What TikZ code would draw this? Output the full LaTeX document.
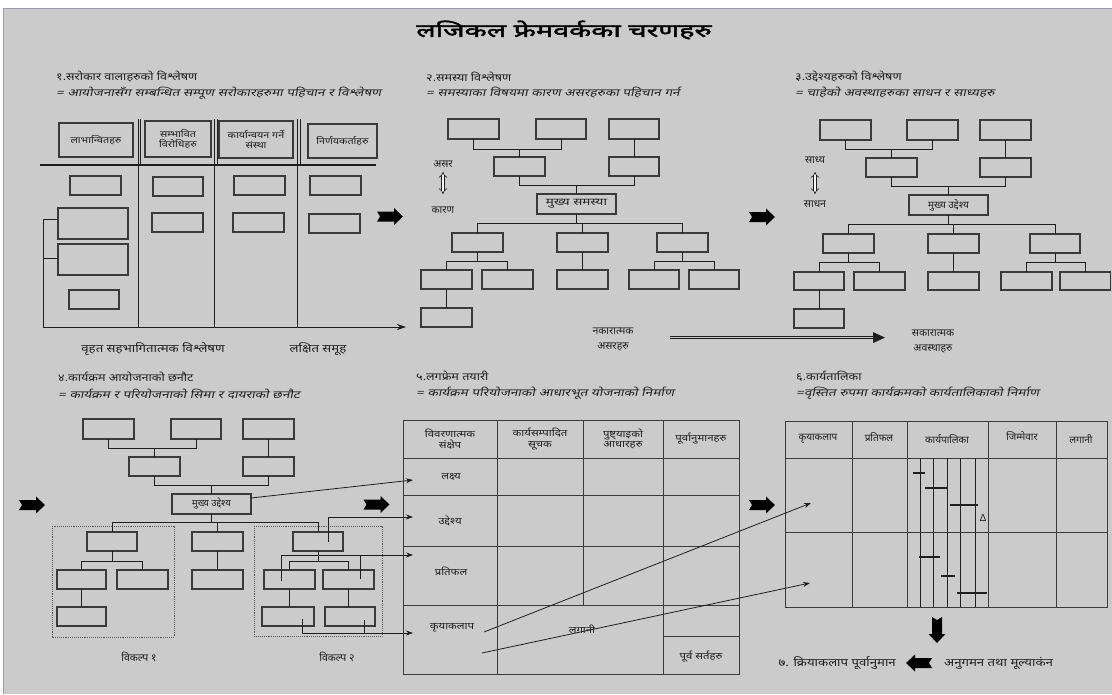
\documentclass[tikz,border=0pt]{standalone}
\usepackage{fontspec}
\newfontfamily\dv{Noto Sans}[Script=Devanagari]
\newfontfamily\dvw{Noto Sans}[Script=Devanagari,FakeStretch=1.2]
\newfontfamily\dvx{Noto Sans}[Script=Devanagari,FakeStretch=1.35]
\newfontfamily\dvi{Noto Sans}[Script=Devanagari,FakeSlant=0.22,FakeStretch=1.3]
\newfontfamily\dvt{Noto Sans}[Script=Devanagari,FakeStretch=1.6,FakeBold=2.5]
\usetikzlibrary{arrows.meta,calc}
\definecolor{bg}{HTML}{CBCBCB}
\definecolor{ink}{HTML}{1E1E1E}
\definecolor{boxc}{HTML}{3A3A3A}
\definecolor{frm}{HTML}{9A9CAC}
\newcommand\mkbox[6]{%
  \pgfmathsetmacro\mbw{#4-#2}%
  \pgfmathsetmacro\mbh{#5-#3}%
  \pgfmathsetmacro\mbx{(#2+#4)/2}%
  \pgfmathsetmacro\mby{(#3+#5)/2}%
  \node[bx, minimum width=\mbw pt, minimum height=\mbh pt] (#1) at (\mbx,\mby) {#6};}
\newcommand\downfork[4]{%
  \coordinate (fk) at (0,#2);
  \draw[cn] (#1.south) -- (#1.south|-fk);
  \draw[cn] (#3.north) -- (#3.north|-fk) -- (#4.north|-fk) -- (#4.north);}
\newcommand\upfork[4]{%
  \coordinate (fk) at (0,#2);
  \draw[cn] (#1.north) -- (#1.north|-fk);
  \draw[cn] (#3.south) -- (#3.south|-fk) -- (#4.south|-fk) -- (#4.south);}
\begin{document}
\begin{tikzpicture}[x=1pt,y=-1pt,
  bx/.style={draw=boxc, line width=1.1pt, inner sep=0pt, outer sep=0pt, align=center, text=ink, font=\dvw\fontsize{9}{10.5}\selectfont},
  cn/.style={draw=ink, line width=0.8pt},
  tbl/.style={draw=boxc, line width=0.9pt},
  tx/.style={inner sep=0pt, text=ink, font=\dvw\fontsize{11}{13}\selectfont, align=center},
  sm/.style={inner sep=0pt, text=ink, font=\dv\fontsize{10.5}{15}\selectfont, align=center},
  hd/.style={inner sep=0pt, text=ink, anchor=west, font=\dvw\fontsize{10.5}{12}\selectfont},
  it/.style={inner sep=0pt, text=ink, anchor=west, font=\dvi\fontsize{10.5}{12}\selectfont},
  th/.style={inner sep=0pt, text=ink, align=center, font=\dvw\fontsize{9.5}{10.5}\selectfont},
  sh/.style={inner sep=0pt, text=ink, align=center, font=\dv\fontsize{10}{11}\selectfont},
  bar/.style={draw=ink, line width=2pt},
  tip/.style={-{Stealth[length=7pt,width=5pt]}},
  barrow/.pic={\fill[black] (-13,-5) -- (4,-5) -- (4,-8.5) -- (13,0) -- (4,8.5) -- (4,5) -- (-13,5) -- (-10,0) -- cycle;}
]
\useasboundingbox (0,0) rectangle (1112,694);
\fill[white] (0,0) rectangle (1112,694);
\fill[bg] (3,8) rectangle (1112,694);
\draw[frm, line width=0.8pt] (1112,8.4) -- (3.4,8.4) -- (3.4,694);

% title
\node[inner sep=0pt, text=black, font=\dvt\fontsize{18}{20}\selectfont] (title) at (564,30) {लजिकल फ्रेमवर्कका चरणहरु};

% ---------- section 1 ----------
\node[hd] (h1) at (56,77) {१.सरोकार वालाहरुको  विश्लेषण};
\node[it] (i1) at (56,93) {= आयोजनासँग सम्बन्धित सम्पूण सरोकारहरुमा पहिचान र  विश्लेषण};
\mkbox{sa}{59}{123}{133}{157}{लाभान्वितहरु}
\mkbox{sb}{145}{121}{211}{157}{सम्भावित\\विरोधिहरु}
\mkbox{sc}{219}{121}{293}{158}{कार्यान्वयन गर्ने\\संस्था}
\mkbox{sd}{308}{124}{377}{158}{निर्णयकर्ताहरु}
\mkbox{p1}{70}{176}{121}{195}{}
\mkbox{p2}{58}{208}{128}{239}{}
\mkbox{p3}{58}{244}{128}{275}{}
\mkbox{p4}{69}{290}{119}{309}{}
\mkbox{q1}{153}{177}{203}{196}{}
\mkbox{q2}{152}{213}{203}{232}{}
\mkbox{k1}{234}{176}{285}{195}{}
\mkbox{k2}{233}{213}{284}{232}{}
\mkbox{w1}{310}{176}{361}{195}{}
\mkbox{w2}{309}{214}{360}{233}{}
\draw[draw=ink, line width=1.5pt] (40,165) -- (376,165);
\foreach \cx in {138,214.5,297.5}{
  \draw[draw=ink, line width=1pt] (\cx,119) -- (\cx,327);
  \draw[draw=ink, line width=0.9pt] (\cx+2.6,119) -- (\cx+2.6,165);
}
\coordinate (ax0) at (43,219);
\coordinate (ax1) at (43,327);
\coordinate (ax2) at (406,327);
\coordinate (ax3) at (43,258);
\draw[cn, line width=1pt, -{Stealth[length=9pt,width=6pt]}] (ax0) -- (ax1) -- (ax2);
\draw[cn] (ax0) -- (p2.west|-ax0);
\draw[cn] (ax3) -- (p3.west|-ax3);
\node[tx] (l1a) at (153,349) {वृहत सहभागितात्मक विश्लेषण};
\node[tx] (l1b) at (318,349) {लक्षित समूह};
\pic at (390,216.5) {barrow};

% ---------- section 2 ----------
\node[hd] (h2) at (426,77) {२.समस्या विश्लेषण};
\node[it] (i2) at (426,93) {= समस्याका विषयमा कारण असरहरुका पहिचान  गर्न};
\mkbox{at1}{448}{119}{499}{139}{}
\mkbox{at2}{536}{119}{586}{139}{}
\mkbox{at3}{609}{119}{659}{139}{}
\mkbox{am1}{494}{157}{545}{176}{}
\mkbox{am2}{609}{157}{659}{176}{}
\mkbox{amain}{537}{194}{616}{214}{\dvx\fontsize{10}{11}\selectfont मुख्य समस्या}
\mkbox{ar1}{452}{233}{503}{252}{}
\mkbox{ar2}{557}{233}{608}{252}{}
\mkbox{ar3}{657}{233}{708}{252}{}
\mkbox{as1}{421}{270}{472}{289}{}
\mkbox{as2}{482}{270}{533}{289}{}
\mkbox{as3}{557}{270}{608}{289}{}
\mkbox{as4}{629}{270}{679}{289}{}
\mkbox{as5}{689}{270}{739}{289}{}
\mkbox{au1}{421}{308}{472}{327}{}
\upfork{am1}{149}{at1}{at2}
\draw[cn] (at3.south) -- (at3.south|-am2.north);
\upfork{amain}{185}{am1}{am2}
\downfork{amain}{223}{ar1}{ar3}
\draw[cn] (ar2.north|-fk) -- (ar2.north);
\downfork{ar1}{261}{as1}{as2}
\draw[cn] (ar2.south) -- (as3.north);
\downfork{ar3}{261}{as4}{as5}
\draw[cn] (as1.south) -- (au1.north);
\node[sm] (asar) at (443,164) {असर};
\node[sm] (karan) at (443,210) {कारण};
\coordinate (ua1) at (443,172);
\coordinate (ua2) at (443,194);
\draw[draw=ink, line width=0.6pt, double, double distance=2.4pt, {Implies}-{Implies}] (ua1) -- (ua2);
\node[sm] (neg) at (613,339) {नकारात्मक\\असरहरु};
\coordinate (na) at (670,337.6);
\coordinate (sa2) at (885,337.6);
\draw[draw=ink, line width=1pt] ([yshift=1.3pt]na) -- ([yshift=1.3pt,xshift=-10pt]sa2);
\draw[draw=ink, line width=1pt] ([yshift=-1.3pt]na) -- ([yshift=-1.3pt,xshift=-10pt]sa2);
\fill[ink] (sa2) -- ++(-12,-5.5) -- ++(0,11) -- cycle;
\node[sm] (pos) at (933,341) {सकारात्मक\\अवस्थाहरु};
\pic at (762,217) {barrow};

% ---------- section 3 ----------
\node[hd] (h3) at (795,77) {३.उद्देश्यहरुको विश्लेषण};
\node[it] (i3) at (795,93) {= चाहेको अवस्थाहरुका साधन र साध्यहरु};
\mkbox{bt1}{820}{120}{871}{140}{}
\mkbox{bt2}{907}{120}{958}{140}{}
\mkbox{bt3}{980}{120}{1031}{140}{}
\mkbox{bm1}{866}{158}{917}{177}{}
\mkbox{bm2}{980}{158}{1031}{177}{}
\mkbox{bmain}{909}{195}{988}{215}{\dv\fontsize{10}{11}\selectfont मुख्य उद्देश्य}
\mkbox{br1}{823}{234}{874}{253}{}
\mkbox{br2}{928}{234}{979}{253}{}
\mkbox{br3}{1030}{234}{1080}{253}{}
\mkbox{bs1}{794}{272}{844}{290}{}
\mkbox{bs2}{854}{272}{905}{290}{}
\mkbox{bs3}{928}{272}{979}{290}{}
\mkbox{bs4}{1001}{272}{1052}{290}{}
\mkbox{bs5}{1060}{272}{1110.5}{290}{}
\mkbox{bu1}{794}{309}{844}{328}{}
\upfork{bm1}{149}{bt1}{bt2}
\draw[cn] (bt3.south) -- (bt3.south|-bm2.north);
\upfork{bmain}{186}{bm1}{bm2}
\downfork{bmain}{224}{br1}{br3}
\draw[cn] (br2.north|-fk) -- (br2.north);
\downfork{br1}{262}{bs1}{bs2}
\draw[cn] (br2.south) -- (bs3.north);
\downfork{br3}{262}{bs4}{bs5}
\draw[cn] (bs1.south) -- (bu1.north);
\node[sm] (sadhya) at (815,160) {साध्य};
\node[sm] (sadhan) at (815,204) {साधन};
\coordinate (ub1) at (815,172);
\coordinate (ub2) at (815,194);
\draw[draw=ink, line width=0.6pt, double, double distance=2.4pt, {Implies}-{Implies}] (ub1) -- (ub2);

% ---------- section 4 ----------
\node[hd] (h4) at (58,377) {४.कार्यक्रम आयोजनाको छनौट};
\node[it] (i4) at (58,394) {= कार्यक्रम र परियोजनाको सिमा र दायराको छनौट};
\mkbox{ct1}{83}{419}{134}{439}{}
\mkbox{ct2}{171}{419}{221}{439}{}
\mkbox{ct3}{243}{419}{294}{439}{}
\mkbox{cm1}{129}{457}{180}{476}{}
\mkbox{cm2}{243}{457}{294}{476}{}
\mkbox{cmain}{172}{494}{251}{514}{\dv\fontsize{9.5}{10}\selectfont मुख्य उद्देश्य}
\draw[densely dotted, draw=black!65, line width=0.9pt] (52,526) rectangle (174,637);
\draw[densely dotted, draw=black!65, line width=0.9pt] (254,526) rectangle (382,636);
\mkbox{cr1}{87}{532}{137}{551}{}
\mkbox{cr2}{192}{532}{243}{551}{}
\mkbox{cr3}{293}{532}{343}{551}{}
\mkbox{cs1}{57}{570}{106}{589}{}
\mkbox{cs2}{117}{570}{168}{589}{}
\mkbox{cs3}{192}{570}{243}{589}{}
\mkbox{cs4}{264}{570}{315}{589}{}
\mkbox{cs5}{323}{570}{374}{589}{}
\mkbox{cu1}{57}{607}{106}{626}{}
\mkbox{cu2}{262}{607}{314}{626}{}
\mkbox{cu3}{325}{607}{375}{626}{}
\upfork{cm1}{448}{ct1}{ct2}
\draw[cn] (ct3.south) -- (ct3.south|-cm2.north);
\upfork{cmain}{485}{cm1}{cm2}
\downfork{cmain}{522}{cr1}{cr3}
\draw[cn] (cr2.north|-fk) -- (cr2.north);
\downfork{cr1}{561}{cs1}{cs2}
\draw[cn] (cr2.south) -- (cs3.north);
\downfork{cr3}{561}{cs4}{cs5}
\draw[cn] (cs1.south) -- (cu1.north);
\draw[cn] (cs4.south) -- (cs4.south|-cu2.north);
\draw[cn] (cs5.south) -- (cs5.south|-cu3.north);
\node[sm] (v1) at (139,657) {विकल्प १};
\node[sm] (v2) at (337,657) {विकल्प २};
\pic at (32,505) {barrow};
\pic at (376.5,504.5) {barrow};

% ---------- section 5 : logframe ----------
\node[hd] (h5) at (416,376) {५.लगफ्रेम तयारी};
\node[it] (i5) at (416,393) {= कार्यक्रम परियोजनाको आधारभूत योजनाको निर्माण};
\draw[tbl] (403,420) rectangle (739,674);
\draw[tbl] (497,420) -- (497,674);
\draw[tbl] (583,420) -- (583,605);
\draw[tbl] (663,420) -- (663,674);
\draw[tbl] (403,458) -- (739,458);
\draw[tbl] (403,495) -- (739,495);
\draw[tbl] (403,546) -- (739,546);
\draw[tbl] (403,605) -- (739,605);
\draw[tbl] (663,636) -- (739,636);
\node[th] (lh1) at (450,439) {विवरणात्मक\\संक्षेप};
\node[th] (lh2) at (540,439) {कार्यसम्पादित\\सूचक};
\node[th] (lh3) at (623,439) {पुष्ट्याइको\\आधारहरु};
\node[th] (lh4) at (701,439) {पूर्वानुमानहरु};
\node[th] (lg1) at (451,477) {लक्ष्य};
\node[th] (lg2) at (450,521) {उद्देश्य};
\node[th] (lg3) at (451,571) {प्रतिफल};
\node[th] (lg4) at (452,628) {कृयाकलाप};
\node[th] (lg5) at (582,629) {लगानी};
\node[th] (lg6) at (701,657) {पूर्व सर्तहरु};
\coordinate (lf1) at (413,480);
\coordinate (lf2) at (413,517);
\coordinate (lf3) at (413,555);
\coordinate (lf4) at (413,633);
\draw[cn, tip] ([yshift=6pt]cmain.east) -- (lf1);
\coordinate (c3in) at (328,542);
\draw[cn, tip] (c3in) -- (c3in|-lf2) -- (lf2);
\coordinate (s4in) at (281,581);
\coordinate (s5in) at (360,579);
\draw[cn, tip] (s4in) -- (s4in|-lf3) -- (lf3);
\draw[cn] (s5in) -- (s5in|-lf3);
\coordinate (u2in) at (302,619);
\coordinate (u3in) at (364,620);
\draw[cn, tip] (u2in) -- (u2in|-lf4) -- (lf4);
\draw[cn] (u3in) -- (u3in|-lf4);
\pic at (762,505) {barrow};

% ---------- section 6 : schedule ----------
\node[hd] (h6) at (796,376) {६.कार्यतालिका};
\node[it] (i6) at (796,393) {=वृस्तित रुपमा कार्यक्रमको कार्यतालिकाको निर्माण};
\draw[tbl] (785,421) rectangle (1107,607);
\foreach \cx in {852,907,988,1056}{\draw[tbl] (\cx,421) -- (\cx,607);}
\draw[tbl] (785,458) -- (1107,458);
\draw[tbl] (785,532) -- (1107,532);
\foreach \cx in {920,933,947,960,975}{\draw[draw=ink, line width=0.7pt] (\cx,458) -- (\cx,607);}
\draw[bar] (913,473) -- (925,473);
\draw[bar] (925,488) -- (948,488);
\draw[bar] (950,505) -- (978,505);
\draw[bar] (919,557) -- (940,557);
\draw[bar] (941,576) -- (955,576);
\draw[bar] (957,593) -- (987,593);
\node[sh] (delta) at (983,518) {Δ};
\node[sh] (kh1) at (818,439) {कृयाकलाप};
\node[sh] (kh2) at (879,437) {प्रतिफल};
\node[sh] (kh3) at (947,439) {कार्यपालिका};
\node[sh] (kh4) at (1022,436) {जिम्मेवार};
\node[sh] (kh5) at (1081,439) {लगानी};
\coordinate (ka1) at (484,632);
\coordinate (kb1) at (811,503);
\coordinate (ka2) at (482,653);
\coordinate (kb2) at (810,583);
\draw[cn, tip] (ka1) -- (kb1);
\draw[cn, tip] (ka2) -- (kb2);
\pic[rotate=-90] at (937,630) {barrow};
\pic[rotate=180] at (919,663) {barrow};
\node[tx, anchor=east] (a7) at (896,663) {७. क्रियाकलाप पूर्वानुमान};
\node[tx, anchor=west] (mon) at (944,663) {अनुगमन तथा मूल्याकंन};
\end{tikzpicture}
\end{document}
